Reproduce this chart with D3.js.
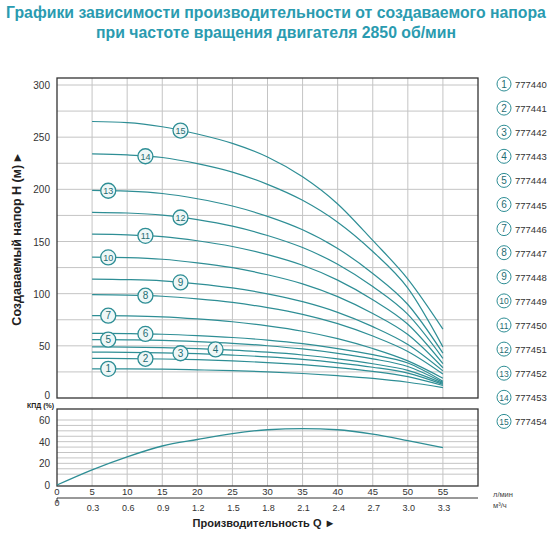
<!DOCTYPE html><html><head><meta charset="utf-8"><script src="https://cdn.jsdelivr.net/npm/d3@7"></script>
<style>body{margin:0;background:#fff}text{font-family:"Liberation Sans",Arial,sans-serif}</style></head><body>
<svg id="c" width="550" height="550"></svg>
<script>
const Q = [5,10,15,20,25,30,35,40,45,50,55];
const H1=[28,27.9,27.6,27,26.2,25.1,23.5,21.4,18.8,15.1,10];
const H2=[38,37.8,37.4,36.7,35.5,34,31.9,29.1,25.5,20.5,12];
const H3=[44,43.8,43.3,42.5,41.1,39.4,37,33.7,29.5,23.8,13];
const H4=[49,48.8,48.3,47.3,45.8,43.9,41.2,37.5,32.8,26.5,14];
const H5=[56,55.7,55.2,54,52.4,50.1,47,42.8,37.5,30.2,15];
const H6=[62,61.7,61.1,59.8,58,55.5,52.1,47.4,41.5,33.5,16];
const H7=[79,78.7,77.8,75.8,73.1,69.1,64,56.9,47.4,35.6,19];
const H8=[99,98.6,97.5,95,91.6,86.6,80.2,71.3,59.4,44.6,23];
const H9=[114,113.5,112.3,109.4,105.5,99.8,92.3,82.1,68.4,51.3,26];
const H10=[135,134.5,133,129.6,124.9,118.1,109.4,97.2,81,60.8,29];
const H11=[157,156.4,154.6,150.7,145.2,137.4,127.2,113,94.2,70.7,33];
const H12=[178,177.3,175.3,170.9,164.7,155.8,144.2,128.2,106.8,80.1,38];
const H13=[199,198.2,196,191,184,174.1,161.2,143.3,119.4,89.6,43];
const H14=[234,233,230.5,224.6,216.5,204.8,189.5,168.5,140.4,105.3,49];
const H15=[265,264,260,253,244,231,212,186,151,114,66];
const curves=[H1,H2,H3,H4,H5,H6,H7,H8,H9,H10,H11,H12,H13,H14,H15];
const labelQ=[7.3,12.6,17.6,22.6,7.3,12.6,7.3,12.6,17.6,7.3,12.6,17.6,7.3,12.6,17.6];
const models=["777440","777441","777442","777443","777444","777445","777446","777447","777448","777449","777450","777451","777452","777453","777454"];
const effQ=[0,5,10,15,20,25,30,35,40,45,50,55];
const eff=[0,14,26,36,42,47.5,51,52,51,47,41,34.5];
const yTicks=[0,50,100,150,200,250,300];
const eTicks=[0,20,40,60];
const qTicks=[0,5,10,15,20,25,30,35,40,45,50,55];
const m3Labels=["0","0.3","0.6","0.9","1.2","1.5","1.8","2.1","2.4","2.7","3.0","3.3"];

const svg=d3.select("#c");
const teal="#2e8e95", grid="#c4c4c4";
const x=d3.scaleLinear().domain([0,60]).range([57,478]);
const y=d3.scaleLinear().domain([0,300]).range([398,85]);
const ye=d3.scaleLinear().domain([0,60]).range([485,420]);

svg.append("text").attr("x",276).attr("y",18).attr("text-anchor","middle").attr("font-size",15.8).attr("font-weight","bold").attr("fill","#2a9bb0").text("Графики зависимости производительности от создаваемого напора");
svg.append("text").attr("x",276).attr("y",38).attr("text-anchor","middle").attr("font-size",15.8).attr("font-weight","bold").attr("fill","#2a9bb0").text("при частоте вращения двигателя 2850 об/мин");

const g=svg.append("g");
d3.range(5,60,5).forEach(v=>g.append("line").attr("x1",x(v)).attr("x2",x(v)).attr("y1",78).attr("y2",398).attr("stroke",grid));
d3.range(25,310,25).forEach(v=>g.append("line").attr("x1",57).attr("x2",478).attr("y1",y(v)).attr("y2",y(v)).attr("stroke",grid));
g.append("rect").attr("x",57).attr("y",78).attr("width",421).attr("height",320).attr("fill","none").attr("stroke","#333").attr("stroke-width",1.3);
yTicks.forEach(v=>g.append("text").attr("x",50).attr("y",y(v)+(v==0?1:4)).attr("text-anchor","end").attr("font-size",10).attr("fill","#333").text(v));

const line=d3.line().x((d,i)=>x(Q[i])).y(d=>y(d)).curve(d3.curveMonotoneX);
curves.forEach(c=>g.append("path").attr("d",line(c)).attr("fill","none").attr("stroke",teal).attr("stroke-width",1.2));
curves.forEach((c,k)=>{
  const q=labelQ[k]; let i=Math.min(9,Math.floor((q-5)/5)); const t=(q-Q[i])/5;
  const h=c[i]+(c[i+1]-c[i])*t;
  g.append("circle").attr("cx",x(q)).attr("cy",y(h)).attr("r",7.5).attr("fill","#eef7f7").attr("stroke",teal).attr("stroke-width",1.3);
  g.append("text").attr("x",x(q)).attr("y",y(h)+3.5).attr("text-anchor","middle").attr("font-size",k>=9?9:10).attr("fill","#1f6d73").text(k+1);
});
svg.append("text").attr("transform","translate(21,240) rotate(-90)").attr("text-anchor","middle").attr("font-size",12.5).attr("font-weight","bold").attr("fill","#222").text("Создаваемый напор H (м) ▸");

const e=svg.append("g");
svg.append("text").attr("x",27).attr("y",408).attr("font-size",7).attr("font-weight","bold").attr("fill","#222").text("КПД (%)");
d3.range(5,60,5).forEach(v=>e.append("line").attr("x1",x(v)).attr("x2",x(v)).attr("y1",409).attr("y2",486).attr("stroke",grid));
d3.range(10,61,5).forEach(v=>e.append("line").attr("x1",57).attr("x2",478).attr("y1",ye(v)).attr("y2",ye(v)).attr("stroke",grid));
e.append("rect").attr("x",57).attr("y",409).attr("width",421).attr("height",77).attr("fill","none").attr("stroke","#333").attr("stroke-width",1.3);
eTicks.forEach(v=>e.append("text").attr("x",50).attr("y",ye(v)+4).attr("text-anchor","end").attr("font-size",10).attr("fill","#333").text(v));
e.append("path").attr("d",d3.line().x((d,i)=>x(effQ[i])).y(d=>ye(d)).curve(d3.curveMonotoneX)(eff)).attr("fill","none").attr("stroke",teal).attr("stroke-width",1.3);
qTicks.forEach(v=>e.append("text").attr("x",x(v)).attr("y",495).attr("text-anchor","middle").attr("font-size",9.5).attr("fill","#333").text(v));
e.append("line").attr("x1",57).attr("x2",478).attr("y1",498).attr("y2",498).attr("stroke","#333");
e.append("line").attr("x1",57).attr("x2",57).attr("y1",498).attr("y2",503).attr("stroke","#333");
m3Labels.forEach((s,i)=>e.append("text").attr("x",x(qTicks[i])+(i==0?0:1)).attr("y",i==0?506:511).attr("text-anchor","middle").attr("font-size",9).attr("fill","#333").text(s));
svg.append("text").attr("x",493).attr("y",497).attr("font-size",7.5).attr("fill","#444").text("л/мин");
svg.append("text").attr("x",493).attr("y",508).attr("font-size",7.5).attr("fill","#444").text("м³/ч");
svg.append("text").attr("x",264).attr("y",527).attr("text-anchor","middle").attr("font-size",11).attr("font-weight","bold").attr("fill","#222").text("Производительность Q ►");

models.forEach((m,k)=>{
  const cy=84+k*24.1;
  svg.append("circle").attr("cx",504).attr("cy",cy).attr("r",7).attr("fill","#fff").attr("stroke",teal).attr("stroke-width",1);
  svg.append("text").attr("x",504).attr("y",cy+3.5).attr("text-anchor","middle").attr("font-size",k>=9?8.5:10).attr("fill","#1f6d73").text(k+1);
  svg.append("text").attr("x",515).attr("y",cy+4).attr("font-size",9.5).attr("fill","#333").text(m);
});
</script></body></html>
